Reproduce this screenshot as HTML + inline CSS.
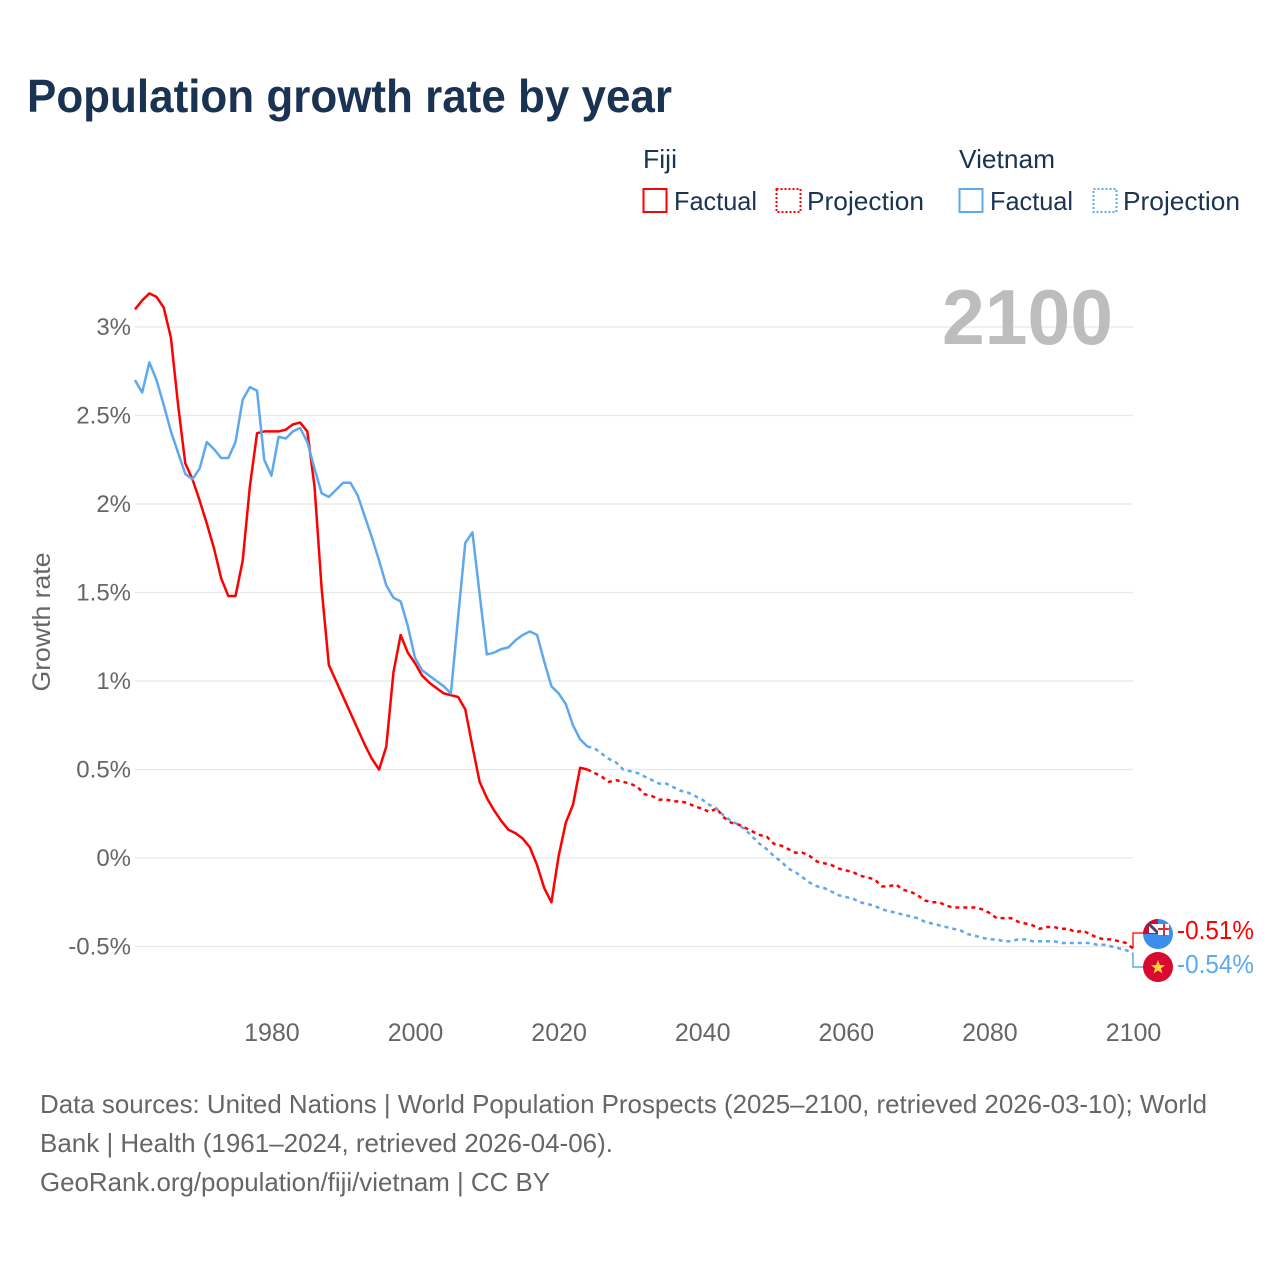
<!DOCTYPE html>
<html lang="en">
<head>
<meta charset="utf-8">
<title>Population growth rate by year</title>
<style>
html,body{margin:0;padding:0;background:#fff;}
svg{display:block;}
text{font-family:"Liberation Sans",sans-serif;}
</style>
</head>
<body>
<svg id="chart" xmlns="http://www.w3.org/2000/svg" width="1280" height="1280" viewBox="0 0 1280 1280">
  <rect width="1280" height="1280" fill="#fff"/>
  <text x="27" y="112" font-size="46" font-weight="700" fill="#1a3353" textLength="645" lengthAdjust="spacingAndGlyphs">Population growth rate by year</text>

  <g font-size="26" fill="#1a3353">
    <text x="643" y="168" textLength="34" lengthAdjust="spacingAndGlyphs">Fiji</text>
    <text x="959" y="168" textLength="96" lengthAdjust="spacingAndGlyphs">Vietnam</text>
    <rect x="643.5" y="189" width="23" height="23" fill="none" stroke="#ff0000" stroke-width="2"/>
    <text x="674" y="210" textLength="83" lengthAdjust="spacingAndGlyphs">Factual</text>
    <rect x="776.5" y="189" width="24" height="23" fill="none" stroke="#ff0000" stroke-width="2" stroke-dasharray="2 2"/>
    <text x="807" y="210" textLength="117" lengthAdjust="spacingAndGlyphs">Projection</text>
    <rect x="959.5" y="189" width="23" height="23" fill="none" stroke="#5ea8ee" stroke-width="2"/>
    <text x="990" y="210" textLength="83" lengthAdjust="spacingAndGlyphs">Factual</text>
    <rect x="1093.5" y="189" width="23" height="23" fill="none" stroke="#5ea8ee" stroke-width="2" stroke-dasharray="2 2"/>
    <text x="1123" y="210" textLength="117" lengthAdjust="spacingAndGlyphs">Projection</text>
  </g>

  <g id="grid"></g>
  <g id="yticks"></g>
  <g id="xticks"></g>
  <text transform="translate(50,622) rotate(-90)" text-anchor="middle" font-size="25" fill="#666" textLength="139" lengthAdjust="spacingAndGlyphs">Growth rate</text>
  <text x="942" y="344" font-size="78" font-weight="700" fill="#bdbdbd" textLength="171" lengthAdjust="spacingAndGlyphs">2100</text>

  <g id="series"></g>

  <g id="endmarks"></g>

  <g font-size="26" fill="#666">
    <text x="40" y="1113" textLength="1167" lengthAdjust="spacingAndGlyphs">Data sources: United Nations | World Population Prospects (2025–2100, retrieved 2026-03-10); World</text>
    <text x="40" y="1152" textLength="573" lengthAdjust="spacingAndGlyphs">Bank | Health (1961–2024, retrieved 2026-04-06).</text>
    <text x="40" y="1191" textLength="510" lengthAdjust="spacingAndGlyphs">GeoRank.org/population/fiji/vietnam | CC BY</text>
  </g>
</svg>
<script>
const yTickValues = [3, 2.5, 2, 1.5, 1, 0.5, 0, -0.5];
const xTickYears = [1980, 2000, 2020, 2040, 2060, 2080, 2100];
const factualStartYear = 1961;
const projectionStartYear = 2024;
const fijiFactual = [3.10,3.15,3.19,3.17,3.11,2.94,2.56,2.23,2.14,2.02,1.89,1.75,1.58,1.48,1.48,1.68,2.10,2.40,2.41,2.41,2.41,2.42,2.45,2.46,2.41,2.10,1.52,1.09,1.00,0.91,0.82,0.73,0.64,0.56,0.50,0.63,1.05,1.26,1.16,1.10,1.03,0.99,0.96,0.93,0.92,0.91,0.84,0.63,0.43,0.34,0.27,0.21,0.16,0.14,0.11,0.06,-0.04,-0.17,-0.25,0.01,0.20,0.30,0.51,0.50];
const vietnamFactual = [2.70,2.63,2.80,2.70,2.56,2.41,2.29,2.17,2.14,2.20,2.35,2.31,2.26,2.26,2.35,2.59,2.66,2.64,2.25,2.16,2.38,2.37,2.41,2.43,2.35,2.20,2.06,2.04,2.08,2.12,2.12,2.05,1.93,1.81,1.68,1.54,1.47,1.45,1.31,1.13,1.06,1.03,1.00,0.97,0.93,1.36,1.78,1.84,1.49,1.15,1.16,1.18,1.19,1.23,1.26,1.28,1.26,1.11,0.97,0.93,0.87,0.75,0.67,0.63];
const fijiProjection = [0.50,0.48,0.46,0.43,0.44,0.43,0.42,0.40,0.36,0.35,0.33,0.33,0.32,0.32,0.31,0.29,0.28,0.26,0.28,0.23,0.20,0.19,0.17,0.15,0.13,0.12,0.08,0.07,0.05,0.03,0.03,0.01,-0.02,-0.03,-0.04,-0.06,-0.07,-0.08,-0.10,-0.11,-0.12,-0.16,-0.16,-0.15,-0.18,-0.19,-0.21,-0.24,-0.25,-0.25,-0.27,-0.28,-0.28,-0.28,-0.28,-0.29,-0.31,-0.34,-0.34,-0.34,-0.36,-0.37,-0.38,-0.40,-0.39,-0.39,-0.40,-0.40,-0.42,-0.41,-0.43,-0.45,-0.46,-0.46,-0.47,-0.48,-0.51];
const vietnamProjection = [0.63,0.62,0.59,0.56,0.54,0.50,0.49,0.48,0.46,0.44,0.42,0.42,0.40,0.38,0.37,0.35,0.33,0.30,0.28,0.24,0.21,0.19,0.16,0.12,0.08,0.05,0.01,-0.02,-0.06,-0.08,-0.11,-0.14,-0.16,-0.17,-0.19,-0.21,-0.22,-0.23,-0.25,-0.26,-0.27,-0.29,-0.30,-0.31,-0.32,-0.33,-0.34,-0.36,-0.37,-0.38,-0.39,-0.40,-0.41,-0.43,-0.44,-0.45,-0.46,-0.46,-0.47,-0.47,-0.46,-0.46,-0.47,-0.47,-0.47,-0.47,-0.48,-0.48,-0.48,-0.48,-0.48,-0.49,-0.49,-0.50,-0.51,-0.52,-0.54];
const endLabelFiji = "-0.51%";
const endLabelVietnam = "-0.54%";

const NS = 'http://www.w3.org/2000/svg';
const plotLeft = 135, plotRight = 1133, zeroY = 858, pxPerUnit = 177;
function xScale(year){ return plotLeft + (year - factualStartYear) * (plotRight - plotLeft) / (2100 - factualStartYear); }
function yScale(v){ return zeroY - pxPerUnit * v; }
function mk(tag, attrs, parent){
  const el = document.createElementNS(NS, tag);
  for (const k in attrs) el.setAttribute(k, attrs[k]);
  parent.appendChild(el);
  return el;
}
function pathFrom(values, startYear){
  return values.map((v, i) => (i ? 'L' : 'M') + xScale(startYear + i).toFixed(2) + ' ' + yScale(v).toFixed(2)).join(' ');
}

const grid = document.getElementById('grid');
const yticks = document.getElementById('yticks');
const xticks = document.getElementById('xticks');
const series = document.getElementById('series');
const endmarks = document.getElementById('endmarks');

yTickValues.forEach(v => {
  const line = mk('line', {x1: plotLeft, x2: plotRight, y1: yScale(v), y2: yScale(v), stroke: '#e8e8e8', 'stroke-width': 1.3}, grid);
  
  
  const t = mk('text', {x: 131, y: yScale(v) + 8, 'text-anchor': 'end', 'font-size': 24, fill: '#666'}, yticks);
  
  
  t.textContent = v + '%';
});
xTickYears.forEach(yr => {
  const t = mk('text', {x: xScale(yr) + 0.5, y: 1041, 'text-anchor': 'middle', 'font-size': 25, fill: '#666'}, xticks);
  
  
  t.textContent = yr;
});

const fijiLine = mk('path', {d: pathFrom(fijiFactual, factualStartYear), fill: 'none', stroke: '#ff0000', 'stroke-width': 2.5, 'stroke-linejoin': 'round'}, series);


const fijiProj = mk('path', {d: pathFrom(fijiProjection, projectionStartYear), fill: 'none', stroke: '#ff0000', 'stroke-width': 2.5, 'stroke-dasharray': '4 4'}, series);


const vietLine = mk('path', {d: pathFrom(vietnamFactual, factualStartYear), fill: 'none', stroke: '#5ea8ee', 'stroke-width': 2.5, 'stroke-linejoin': 'round'}, series);


const vietProj = mk('path', {d: pathFrom(vietnamProjection, projectionStartYear), fill: 'none', stroke: '#5ea8ee', 'stroke-width': 2.5, 'stroke-dasharray': '4 4'}, series);



const fijiEndY = yScale(fijiProjection[fijiProjection.length - 1]);
const vietEndY = yScale(vietnamProjection[vietnamProjection.length - 1]);
const fijiConn = mk('path', {d: 'M1133 ' + fijiEndY + ' V933 H1143', fill: 'none', stroke: '#ff0000', 'stroke-width': 1.5, opacity: 0.85}, endmarks);


const vietConn = mk('path', {d: 'M1133 ' + vietEndY + ' V967 H1143', fill: 'none', stroke: '#5ea8ee', 'stroke-width': 1.5}, endmarks);



const fijiLabel = mk('text', {x: 1177, y: 939, 'font-size': 25.5, fill: '#ff0000', textLength: 77, lengthAdjust: 'spacingAndGlyphs'}, endmarks);


fijiLabel.textContent = endLabelFiji;
const vietLabel = mk('text', {x: 1177, y: 973, 'font-size': 25.5, fill: '#5ea8ee', textLength: 77, lengthAdjust: 'spacingAndGlyphs'}, endmarks);


vietLabel.textContent = endLabelVietnam;

endmarks.insertAdjacentHTML('beforeend', `
  <defs>
    <clipPath id="fiji-clip"><circle cx="1158" cy="934" r="15"/></clipPath>
    <clipPath id="viet-clip"><circle cx="1158" cy="967" r="15"/></clipPath>
  </defs>
  <g>
    <circle cx="1158" cy="934" r="15" fill="#3a8eee"/>
    <g clip-path="url(#fiji-clip)">
      <rect x="1143" y="919" width="15" height="15" fill="#c8102e"/>
      <rect x="1149" y="924" width="9" height="9" fill="#fff"/>
      <path d="M1149 924 L1158 933" stroke="#2a4a8a" stroke-width="3"/>
      <path d="M1150 925 L1157 932" stroke="#c8102e" stroke-width="1"/>
      <rect x="1158" y="924" width="11" height="11" fill="#fff"/>
      <rect x="1163" y="924" width="2" height="12" fill="#d8303a"/>
      <rect x="1158" y="928" width="11" height="2" fill="#d8303a"/>
    </g>
  </g>
  <g>
    <circle cx="1158" cy="967" r="15" fill="#d80a30"/>
    <polygon points="1158,960 1159.9,965 1165,965.2 1161,968.4 1162.4,973.4 1158,970.5 1153.6,973.4 1155,968.4 1151,965.2 1156.1,965" fill="#ffd23a"/>
  </g>`);
</script>
</body>
</html>
